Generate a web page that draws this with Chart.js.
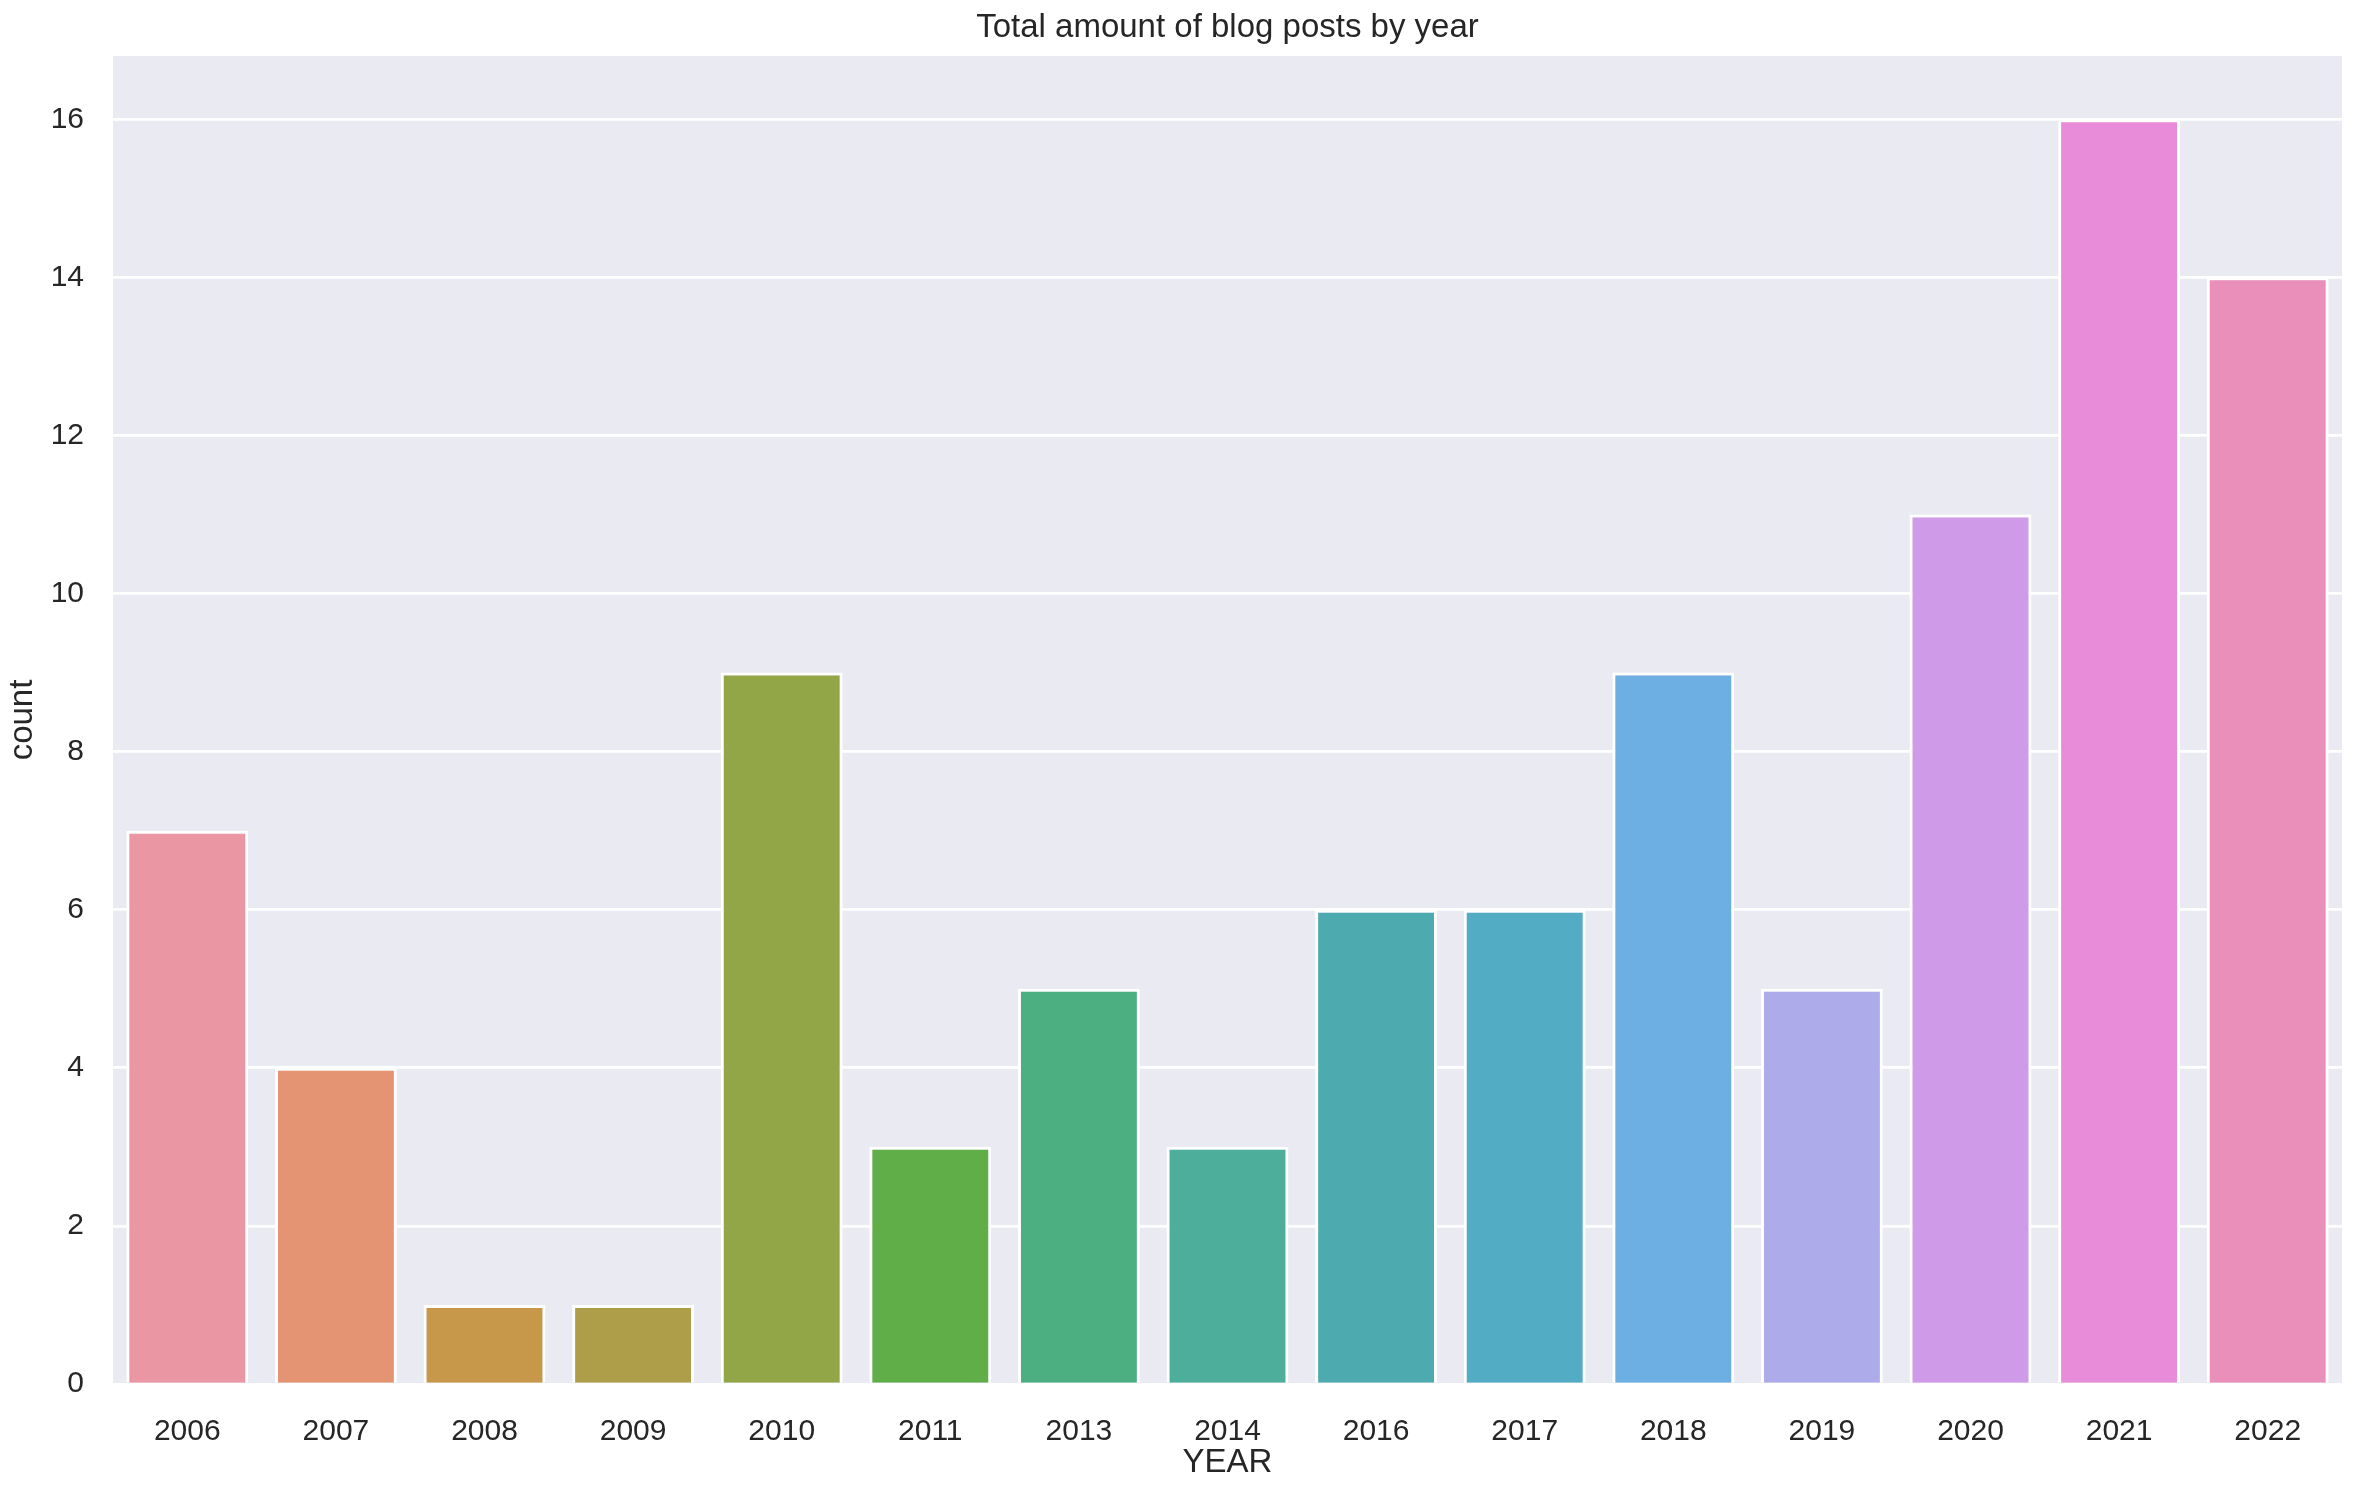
<!DOCTYPE html>
<html>
<head>
<meta charset="utf-8">
<script src="https://cdn.jsdelivr.net/npm/chart.js@4.4.1/dist/chart.umd.min.js"></script>
<style>
  html, body { margin: 0; padding: 0; background: #ffffff; }
  #chart { display: block; }
</style>
</head>
<body>
<canvas id="chart" width="2360" height="1492" style="width:2360px;height:1492px"></canvas>
<script>
const years = ['2006', '2007', '2008', '2009', '2010', '2011', '2013', '2014',
               '2016', '2017', '2018', '2019', '2020', '2021', '2022'];
const postCounts = [7, 4, 1, 1, 9, 3, 5, 3, 6, 6, 9, 5, 11, 16, 14];
const barColors = ['#EB96A3', '#E49472', '#C7984A', '#AE9D49', '#92A547',
                   '#5FAE48', '#4BAF81', '#4CAE9B', '#4DABAF', '#51ACC4',
                   '#6DAFE2', '#AEABEA', '#CF9AE7', '#E88BD9', '#EA8FBA'];
const yTicks = [0, 2, 4, 6, 8, 10, 12, 14, 16];
const chartTitle = 'Total amount of blog posts by year';

const FONT = '"Liberation Sans", Arial, sans-serif';
const TEXT = '#262626';

// light grey panel behind the bars, like seaborn darkgrid
const panelBackground = {
    id: 'panelBackground',
    beforeDraw(chart) {
        const { ctx, chartArea } = chart;
        ctx.save();
        ctx.fillStyle = '#EAEAF2';
        ctx.fillRect(chartArea.left, chartArea.top,
                     chartArea.right - chartArea.left, chartArea.bottom - chartArea.top);
        ctx.restore();
    }
};

// title centred over the plot panel (not the whole canvas)
const panelTitle = {
    id: 'panelTitle',
    afterDraw(chart) {
        const { ctx, chartArea } = chart;
        ctx.save();
        ctx.fillStyle = TEXT;
        ctx.font = '33px ' + FONT;
        ctx.textAlign = 'center';
        ctx.textBaseline = 'alphabetic';
        ctx.fillText(chartTitle, (chartArea.left + chartArea.right) / 2, chartArea.top - 19);
        ctx.restore();
    }
};

const ctx = document.getElementById('chart').getContext('2d');
new Chart(ctx, {
    type: 'bar',
    data: {
        labels: years,
        datasets: [{
            label: 'count',
            data: postCounts,
            backgroundColor: barColors,
            borderColor: '#ffffff',
            borderWidth: 3,
            borderSkipped: 'start',
            barPercentage: 0.82,
            categoryPercentage: 1.0
        }]
    },
    options: {
        responsive: false,
        animation: false,
        devicePixelRatio: 1,
        layout: { padding: { left: 0, right: 18, top: 56, bottom: 0 } },
        plugins: {
            legend: { display: false },
            tooltip: { enabled: false },
            title: { display: false }
        },
        scales: {
            x: {
                grid: { display: false },
                border: { display: false },
                ticks: {
                    color: TEXT,
                    font: { family: FONT, size: 30 },
                    padding: 22,
                    maxRotation: 0
                },
                title: {
                    display: true,
                    text: 'YEAR',
                    color: TEXT,
                    font: { family: FONT, size: 33, lineHeight: 1.2 },
                    padding: { top: 0, bottom: 9 }
                },
                afterFit(scale) { scale.height = 108; }
            },
            y: {
                min: 0,
                max: 16.8,
                grid: { color: '#ffffff', lineWidth: 2.7, drawTicks: false },
                border: { display: false },
                afterBuildTicks(scale) {
                    scale.ticks = yTicks.map(v => ({ value: v }));
                },
                ticks: {
                    color: TEXT,
                    font: { family: FONT, size: 30 },
                    padding: 29
                },
                title: {
                    display: true,
                    text: 'count',
                    color: TEXT,
                    font: { family: FONT, size: 33, lineHeight: 1.2 },
                    padding: { top: 3, bottom: 0 }
                },
                afterFit(scale) { scale.width = 113; }
            }
        }
    },
    plugins: [panelBackground, panelTitle]
});
</script>
</body>
</html>
